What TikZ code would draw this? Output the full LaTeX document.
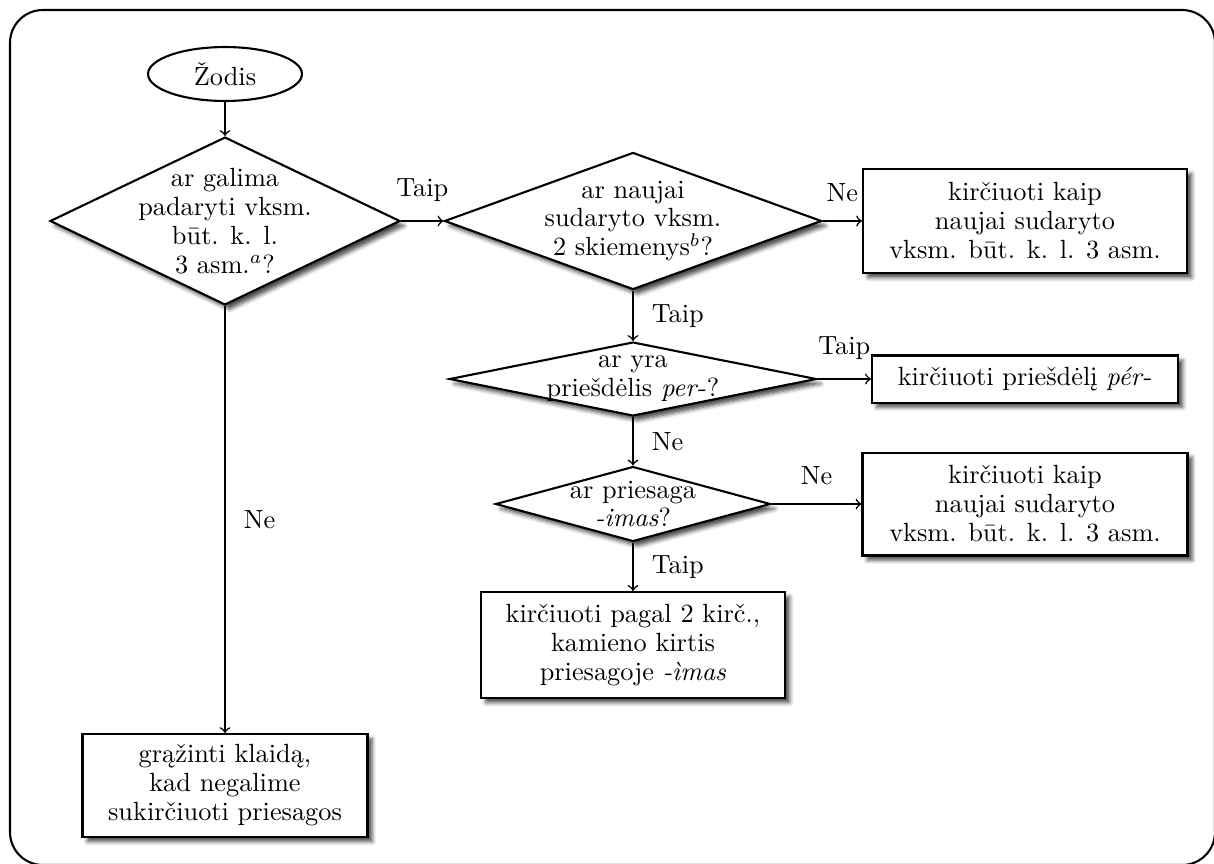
\documentclass[tikz,border=0pt]{standalone}
\usepackage{fontspec}
\usetikzlibrary{shapes.geometric,shadows.blur}
% italic grave accent placed over a dotted i (classic \accent from the OT1 text font)
\newcommand{\gravedoti}{{\fontencoding{OT1}\fontfamily{cmr}\fontseries{m}\fontshape{it}\selectfont\`i}}
\begin{document}
\begin{tikzpicture}[x=0.38pt,y=-0.38pt,
  every node/.style={font=\fontsize{10}{11}\selectfont},
  frame/.style={draw, line width=0.8pt, rounded corners=12.5pt},
  softshadow/.style={blur shadow={shadow xshift=1.8pt, shadow yshift=-1.8pt, shadow blur radius=1.5pt, shadow opacity=70}},
  startnode/.style={ellipse, draw, line width=0.8pt, inner sep=0pt,
    minimum width=58.5pt, minimum height=20.5pt},
  decision/.style={diamond, draw, line width=0.8pt, fill=white, inner sep=0pt, softshadow},
  dtext/.style={align=center, inner sep=0pt},
  action/.style={rectangle, draw, line width=0.8pt, fill=white, align=center, inner sep=0pt, softshadow},
  arr/.style={->, line width=0.6pt},
  lblup/.style={above=3.6pt},
  lblright/.style={right=3.5pt}
]
\useasboundingbox (0,0) rectangle (1214,863);
\draw[frame] (10,10) rectangle (1215,865);

% start
\node[startnode] (start) at (225,74) {Žodis};

% first question
\node[decision, minimum width=133pt, minimum height=63.8pt] (q1) at (225,221) {};
\node[dtext] (q1t) at (q1) {ar galima\\padaryti vksm.\\būt. k. l.\\3 asm.$^a$?};

% second question
\node[decision, minimum width=143.3pt, minimum height=52.1pt] (q2) at (633,221) {};
\node[dtext] (q2t) at (q2) {ar naujai\\sudaryto vksm.\\2 skiemenys$^b$?};

\node[action, minimum width=123.1pt, minimum height=39.5pt] (a1) at (1025,221)
  {kirčiuoti kaip\\naujai sudaryto\\vksm. būt. k. l. 3 asm.};

% prefix question
\node[decision, minimum width=139.5pt, minimum height=28.1pt] (q3) at (633,379) {};
\node[dtext] (q3t) at (q3) {ar yra\\priešdėlis \textit{per}-?};

\node[action, minimum width=116.3pt, minimum height=17.9pt] (a2) at (1025,379)
  {kirčiuoti priešdėlį \textit{pér}-};

% suffix question
\node[decision, minimum width=104.5pt, minimum height=28.5pt] (q4) at (633,504) {};
\node[dtext] (q4t) at (q4) {ar priesaga\\\textit{-imas}?};

\node[action, minimum width=123.5pt, minimum height=39.1pt] (a3) at (1025,504)
  {kirčiuoti kaip\\naujai sudaryto\\vksm. būt. k. l. 3 asm.};

\node[action, minimum width=115.5pt, minimum height=40.3pt] (a4) at (633,645)
  {kirčiuoti pagal 2 kirč.,\\kamieno kirtis\\priesagoje \textit{-\gravedoti mas}};

% error
\node[action, minimum width=108.3pt, minimum height=39.1pt] (a5) at (225,785.5)
  {grąžinti klaidą,\\kad negalime\\sukirčiuoti priesagos};

% connectors
\draw[arr] (start) -- (q1);
\draw[arr] (q1.east) -- node[lblup] (l1) {Taip} (q2.west);
\draw[arr] (q2.east) -- node[lblup] (l2) {Ne} (a1.west);
\draw[arr] (q2.south) -- node[lblright] (l3) {Taip} (q3.north);
\draw[arr] (q3.east) -- node[lblup] (l4) {Taip} (a2.west);
\draw[arr] (q3.south) -- node[lblright] (l5) {Ne} (q4.north);
\draw[arr] (q4.east) -- node[lblup] (l6) {Ne} (a3.west);
\draw[arr] (q4.south) -- node[lblright] (l7) {Taip} (a4.north);
\draw[arr] (q1.south) -- node[lblright] (l8) {Ne} (a5.north);
\end{tikzpicture}
\end{document}
